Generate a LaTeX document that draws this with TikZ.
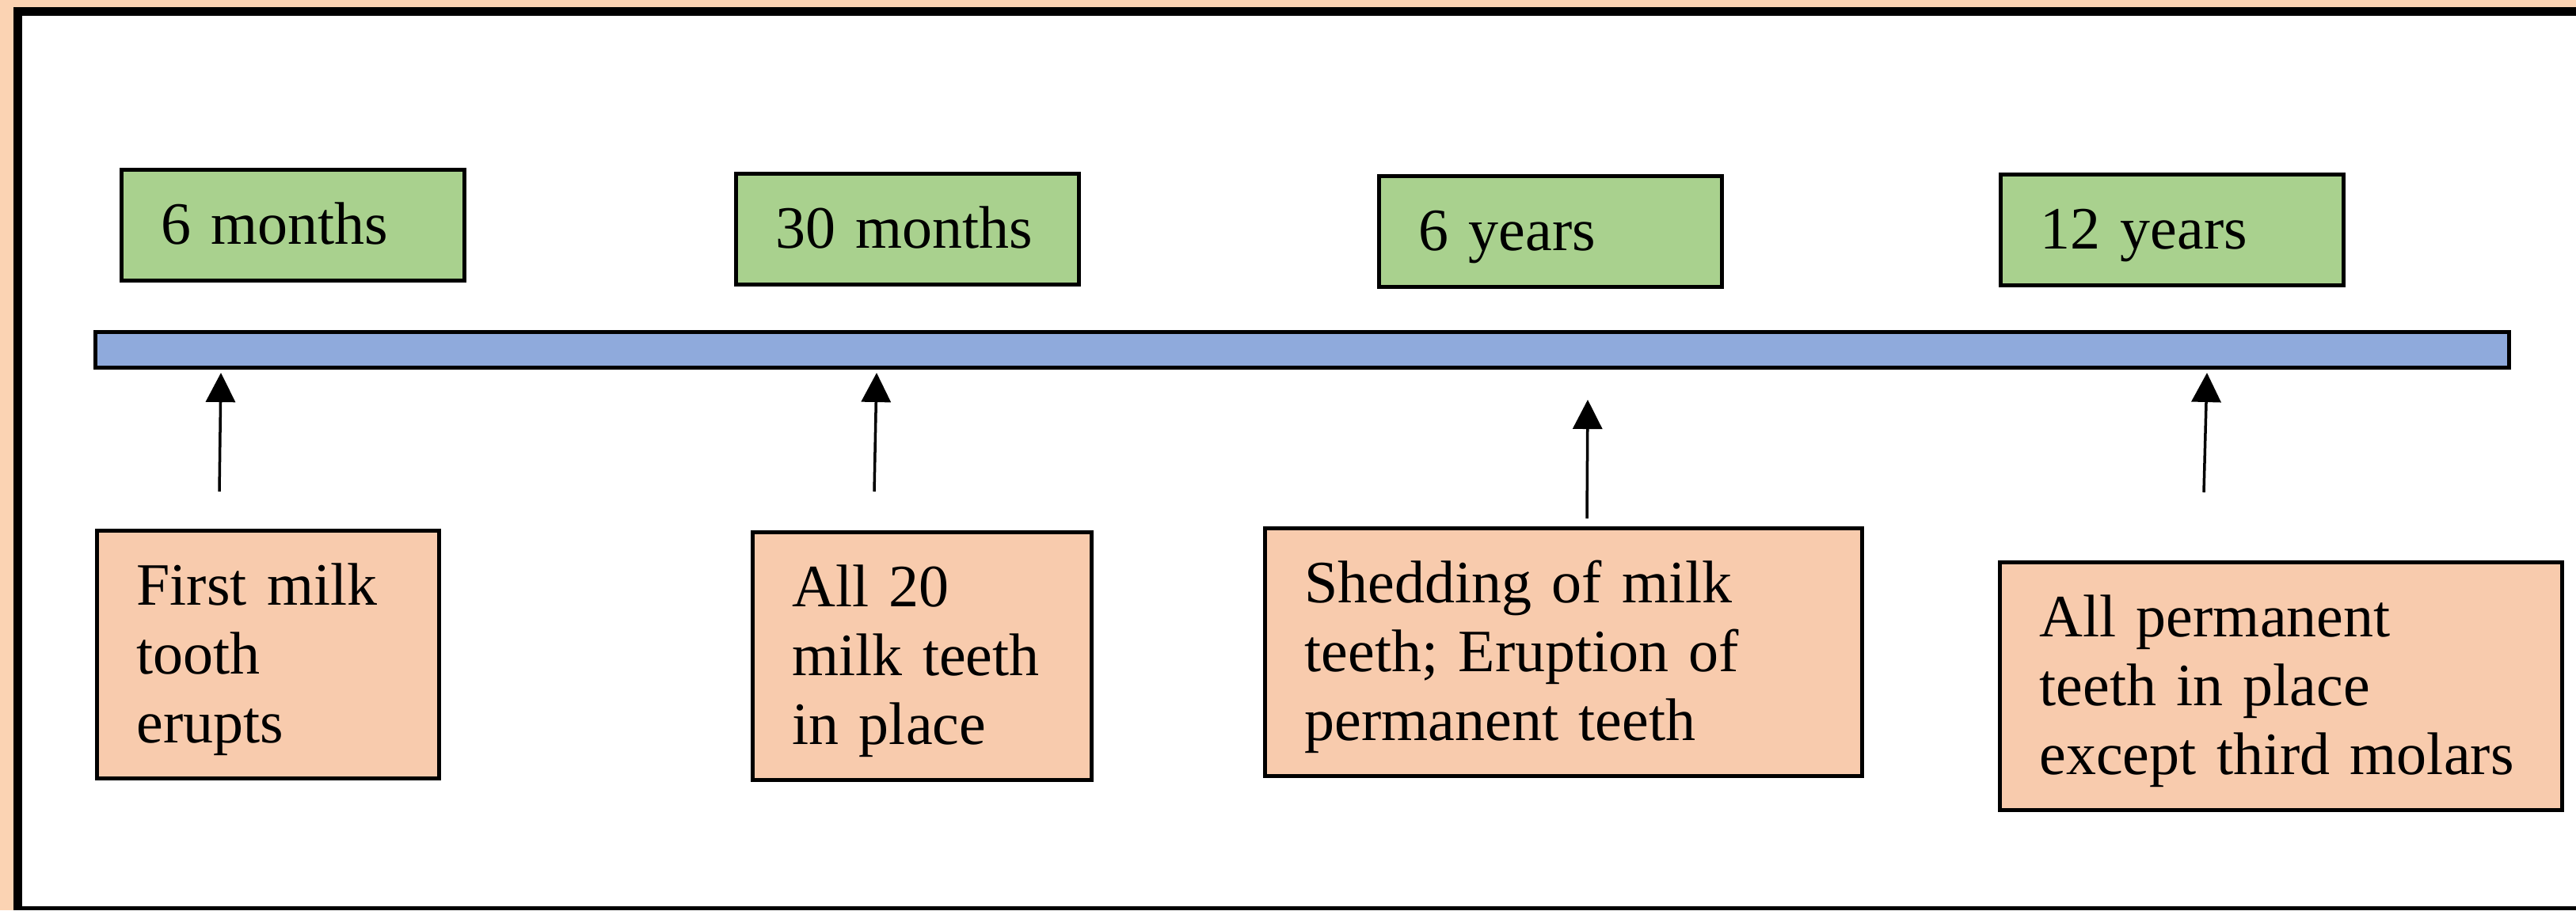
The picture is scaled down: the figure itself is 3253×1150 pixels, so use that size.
\documentclass[tikz,border=0pt]{standalone}
\usepackage{fontspec}
\setmainfont{Liberation Serif}
\usetikzlibrary{arrows.meta}
\definecolor{agegreen}{HTML}{A9D18E}
\definecolor{eventpeach}{HTML}{F8CBAD}
\definecolor{barblue}{HTML}{8FAADC}
\definecolor{framepeach}{HTML}{FBD3B3}

\begin{document}
\begin{tikzpicture}[x = 0.01cm, y = -0.01cm,
    every node/.style = { draw, line width = 0.05cm, anchor = north west, align = left,
      font = \fontsize{21.6pt}{24.75pt}\selectfont, inner xsep = 0.5cm, inner ysep = 0.1cm },
    agebox/.style = { fill = agegreen, text width = 3.33cm, minimum height = 1.40cm,
      text height = 0.64cm, text depth = 0.16cm },
    eventbox/.style = { fill = eventpeach, minimum height = 3.13cm,
      text height = 0.65cm, text depth = 1.90cm },
    pointer/.style = { -{Triangle[length = 0.37cm, width = 0.37cm]}, line width = 0.035cm }]
    \useasboundingbox (0,0) rectangle (3253,1150);
    % frame
    \fill[framepeach] (0,0) rectangle (3253,1150);
    \fill (17,9) rectangle (3253,1150);
    \fill[white] (28,20) rectangle (3253,1145);

    \node [fill = barblue, inner sep = 0, minimum width = 30.46cm, minimum height = 0.45cm] (timeline) at (118,417) {};

    \node [agebox] (age1) at (151,212) { 6 months };
    \node [agebox] (age2) at (927,217) { 30 months };
    \node [agebox] (age3) at (1739,220) { 6 years };
    \node [agebox] (age4) at (2524,218) { 12 years };

    \node [eventbox, text width = 3.32cm] (event1) at (120,668) { First milk \\ tooth \\ erupts };
    \node [eventbox, text width = 3.28cm] (event2) at (948,670) { All 20 \\ milk teeth \\ in place };
    \node [eventbox, text width = 6.54cm] (event3) at (1595,665) { Shedding of milk \\ teeth; Eruption of \\ permanent teeth };
    \node [eventbox, text width = 6.10cm] (event4) at (2523,708) { All permanent \\ teeth in place \\ except third molars };

    \foreach \tx/\ty/\bx/\by [count = \i] in {279/471/277/621, 1107/471/1104/621, 2005/505/2004/655, 2787/471/2783/622} {
      \coordinate (tip\i) at (\tx,\ty);
      \coordinate (tail\i) at (\bx,\by);
      \draw[pointer] (tail\i) -- (tip\i);
    }
\end{tikzpicture}
\end{document}
